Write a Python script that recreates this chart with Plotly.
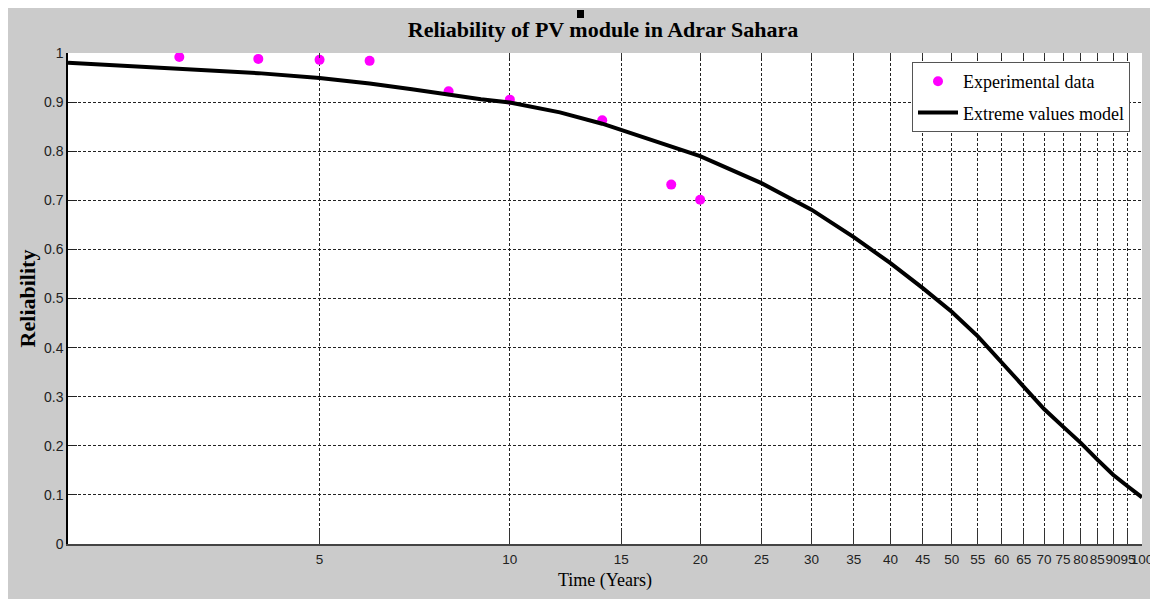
import plotly.graph_objects as go

# Experimental data (time in years, reliability)
exp_t = [3, 4, 5, 6, 8, 10, 14, 18, 20]
exp_r = [0.992, 0.988, 0.986, 0.984, 0.922, 0.905, 0.863, 0.732, 0.701]

# Extreme values model curve
model_t = [2, 3, 4, 5, 6, 7, 8, 9, 10, 12, 14, 15, 17, 20, 25, 30, 35, 40, 45,
           50, 55, 60, 65, 70, 75, 80, 85, 90, 95, 100]
model_r = [0.980, 0.968, 0.959, 0.949, 0.938, 0.926, 0.915, 0.906, 0.899, 0.879,
           0.856, 0.843, 0.820, 0.790, 0.735, 0.681, 0.625, 0.572, 0.521, 0.473,
           0.423, 0.370, 0.321, 0.275, 0.239, 0.206, 0.172, 0.141, 0.117, 0.095]

x_ticks = [5, 10, 15, 20, 25, 30, 35, 40, 45, 50, 55, 60, 65, 70, 75, 80, 85, 90, 95, 100]
y_ticks = [0, 0.1, 0.2, 0.3, 0.4, 0.5, 0.6, 0.7, 0.8, 0.9, 1]
y_tick_text = ["0", "0.1", "0.2", "0.3", "0.4", "0.5", "0.6", "0.7", "0.8", "0.9", "1"]

x_tick_font = dict(family="Liberation Sans, Arial", size=13.5, color="#222")
y_tick_font = dict(family="Liberation Sans, Arial", size=14, color="#222")
serif = "Liberation Serif, Times New Roman, serif"

fig = go.Figure()
fig.add_trace(go.Scatter(
    x=exp_t, y=exp_r, mode="markers", name="Experimental data", legendgroup="a",
    marker=dict(color="#ff00ff", size=10, symbol="circle"),
))
fig.add_trace(go.Scatter(
    x=model_t, y=model_r, mode="lines", name="Extreme values model", legendgroup="b",
    line=dict(color="black", width=4),
))
# invisible trace for top-axis ticks
fig.add_trace(go.Scatter(x=[2, 100], y=[0, 0], xaxis="x2", mode="markers",
                         marker=dict(opacity=0), showlegend=False, hoverinfo="skip"))

W, H = 1158, 599
L, T = 60, 45
pw, ph = 1074, 491
R, B = W - L - pw, H - T - ph

grid = dict(showgrid=True, gridcolor="#222", gridwidth=1, griddash="3px,2px")

fig.update_layout(
    width=W, height=H,
    margin=dict(l=L, r=R, t=T, b=B, autoexpand=False),
    paper_bgcolor="#cbcbcb", plot_bgcolor="white",
    title=dict(text="<b>Reliability of PV module in Adrar Sahara</b>",
               x=(595 - L) / pw, xref="paper", xanchor="center",
               y=1 - 21.5 / H, yanchor="middle",
               font=dict(family=serif, size=22, color="black")),
    xaxis=dict(type="log", range=[0.30103, 2], tickvals=x_ticks,
               ticktext=[str(v) for v in x_ticks], tickangle=0,
               ticks="inside", ticklen=15, tickcolor="#333", tickwidth=1,
               showline=True, linecolor="#444", linewidth=2,
               tickfont=x_tick_font, zeroline=False, automargin=False,
               ticklabelstandoff=2,
               title=dict(text="Time (Years)", standoff=7,
                          font=dict(family=serif, size=18, color="black")),
               **grid),
    xaxis2=dict(type="log", range=[0.30103, 2], tickvals=x_ticks, overlaying="x",
                side="top", ticks="inside", ticklen=5, tickcolor="#333",
                showticklabels=False, showgrid=False, showline=False, zeroline=False,
                automargin=False),
    yaxis=dict(range=[0, 1], tickvals=y_ticks, ticktext=y_tick_text,
               ticks="inside", ticklen=9, tickcolor="#222", tickwidth=1,
               showline=True, linecolor="black", linewidth=1.5,
               tickfont=y_tick_font, zeroline=False, automargin=False,
               title=dict(text="<b>Reliability</b>", standoff=2,
                          font=dict(family=serif, size=22, color="black")),
               **grid),
    legend=dict(x=(904 - L) / pw, y=1 - (54 - T) / ph, xanchor="left", yanchor="top",
                bgcolor="white", bordercolor="#555", borderwidth=1,
                font=dict(family=serif, size=18, color="black"),
                itemwidth=40, tracegroupgap=5),
    showlegend=True,
)

# small black artifact square above the title
fig.add_shape(type="rect", xref="paper", yref="paper",
              x0=(569 - L) / pw, x1=(576 - L) / pw,
              y0=1 + (T - 10) / ph, y1=1 + (T - 2) / ph,
              fillcolor="black", line=dict(width=0), layer="above")

fig.write_html("out.html")
